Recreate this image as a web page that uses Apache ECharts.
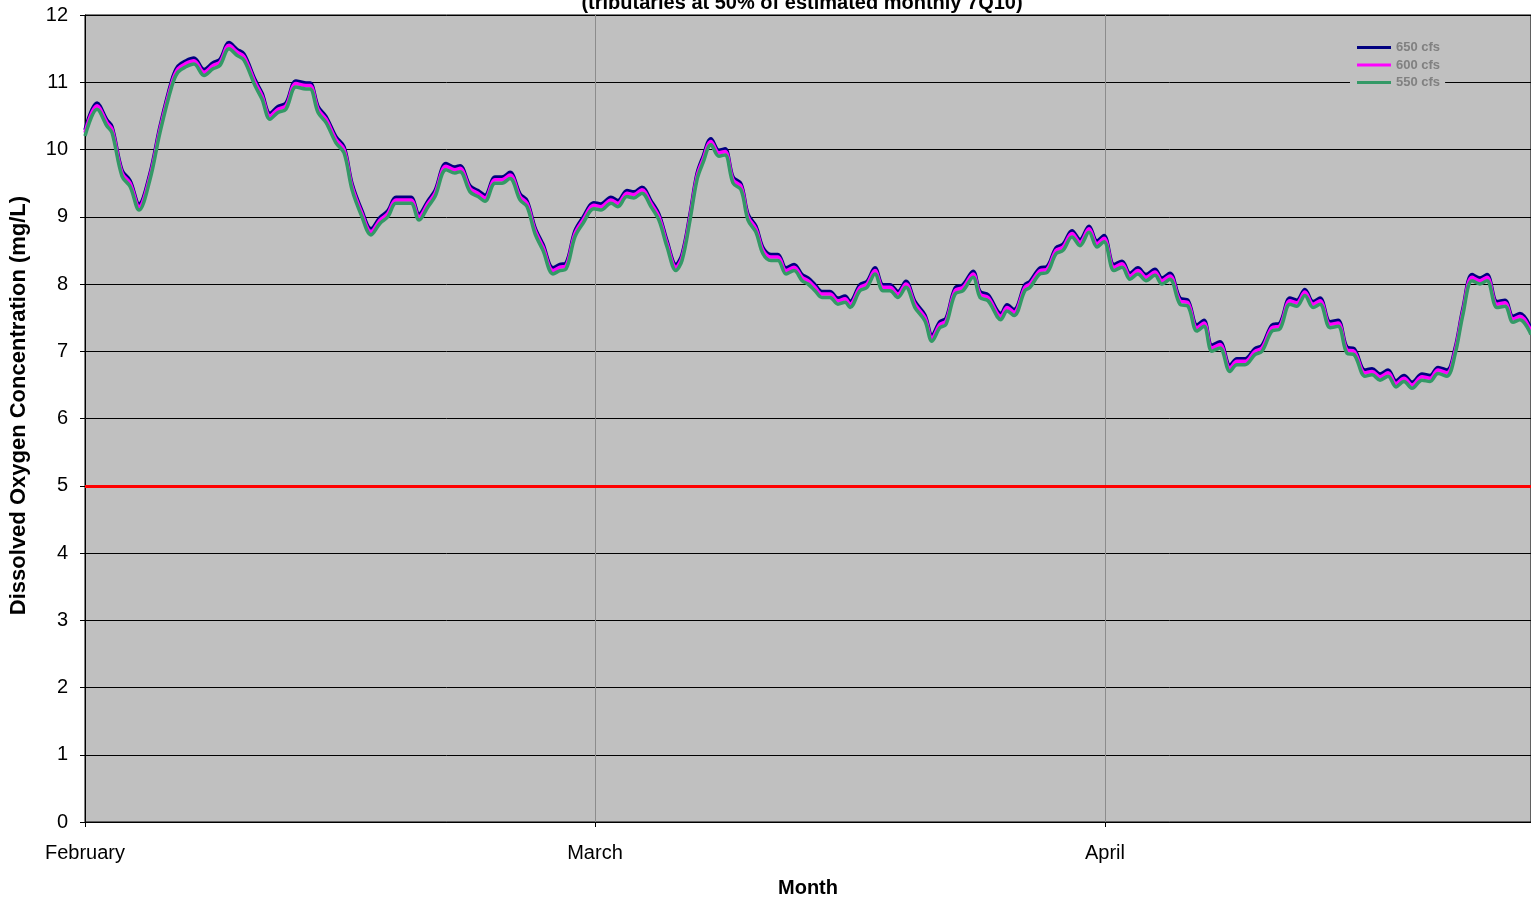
<!DOCTYPE html>
<html>
<head>
<meta charset="utf-8">
<script src="https://cdn.jsdelivr.net/npm/echarts@6/dist/echarts.min.js"></script>
<style>
html,body{margin:0;padding:0;background:#fff;}
#chart{width:1531px;height:901px;}
</style>
</head>
<body>
<div id="chart"></div>
<script>
// Day offset from 1 February for each reading
const days = [0,0.71,1.29,1.59,2.18,2.65,3.18,3.82,4.41,5.12,5.47,5.94,6.41,7.0,7.53,7.94,8.47,8.94,9.35,10.0,
10.41,10.88,11.35,11.82,12.41,13.0,13.24,13.71,14.18,14.76,15.24,15.71,16.29,16.82,17.35,17.82,18.29,18.82,19.18,19.65,
20.18,20.59,21.24,21.76,22.06,22.65,23.12,23.53,24.12,24.53,25.0,25.59,26.0,26.47,26.94,27.53,27.94,28.29,28.82,29.29,
29.94,30.35,30.94,31.35,31.88,32.29,32.76,33.29,33.76,34.24,34.76,35.12,35.59,36.0,36.35,36.82,37.29,37.65,38.12,38.59,
39.0,39.47,39.88,40.35,40.76,41.24,41.71,42.18,42.53,42.94,43.35,43.82,44.29,44.71,45.0,45.59,46.0,46.47,46.94,47.35,
47.82,48.29,48.82,49.41,49.82,50.29,50.65,51.18,51.65,52.24,52.65,53.12,53.88,54.24,54.65,55.29,55.59,56.18,56.59,57.12,
57.53,58.06,58.53,59.06,59.53,59.94,60.53,61.0,61.47,61.94,62.41,62.94,63.35,63.82,64.41,64.88,65.41,65.82,66.29,66.76,
67.35,67.76,68.24,68.82,69.24,69.82,70.29,70.88,71.29,71.76,72.24,72.65,73.24,73.71,74.24,74.65,75.29,75.71,76.18,76.65,
77.12,77.59,78.06,78.65,79.12,79.59,80.12,80.59,81.06,81.59,82.06,82.47,83.06,83.53,84.0,84.41,85.06];

const do650 = [10.29,10.69,10.44,10.34,9.69,9.54,9.19,9.64,10.34,11.04,11.24,11.32,11.36,11.19,11.29,11.34,11.59,11.49,11.42,11.04,
10.84,10.54,10.64,10.69,11.02,10.99,10.99,10.64,10.49,10.19,10.04,9.49,9.09,8.82,8.99,9.09,9.29,9.29,9.29,9.04,
9.24,9.39,9.79,9.74,9.76,9.46,9.39,9.32,9.59,9.59,9.66,9.34,9.24,8.84,8.59,8.24,8.29,8.31,8.79,8.99,
9.21,9.19,9.29,9.24,9.39,9.37,9.44,9.24,9.04,8.64,8.29,8.44,9.04,9.64,9.89,10.16,9.99,10.01,9.59,9.49,
9.04,8.86,8.54,8.44,8.44,8.24,8.29,8.14,8.09,7.99,7.89,7.89,7.79,7.82,7.74,7.99,8.04,8.24,7.99,7.99,
7.89,8.04,7.74,7.54,7.24,7.44,7.49,7.94,7.99,8.19,7.89,7.84,7.56,7.69,7.62,7.99,8.04,8.24,8.26,8.54,
8.59,8.79,8.66,8.86,8.64,8.72,8.29,8.34,8.16,8.24,8.14,8.22,8.09,8.16,7.79,7.76,7.39,7.46,7.09,7.14,
6.79,6.89,6.89,7.04,7.09,7.39,7.42,7.79,7.76,7.92,7.74,7.79,7.44,7.46,7.06,7.04,6.72,6.74,6.66,6.72,
6.56,6.64,6.54,6.66,6.64,6.76,6.72,7.04,7.64,8.14,8.09,8.14,7.74,7.76,7.52,7.56,7.34];

const do600 = [10.25,10.65,10.40,10.30,9.65,9.50,9.15,9.60,10.30,11.00,11.20,11.28,11.32,11.15,11.25,11.30,11.55,11.45,11.38,11.00,
10.80,10.50,10.60,10.65,10.98,10.95,10.95,10.60,10.45,10.15,10.00,9.45,9.05,8.78,8.95,9.05,9.25,9.25,9.25,9.00,
9.20,9.35,9.75,9.70,9.72,9.42,9.35,9.28,9.55,9.55,9.62,9.30,9.20,8.80,8.55,8.20,8.25,8.27,8.75,8.95,
9.17,9.15,9.25,9.20,9.35,9.33,9.40,9.20,9.00,8.60,8.25,8.40,9.00,9.60,9.85,10.12,9.95,9.97,9.55,9.45,
9.00,8.82,8.50,8.40,8.40,8.20,8.25,8.10,8.05,7.95,7.85,7.85,7.75,7.78,7.70,7.95,8.00,8.20,7.95,7.95,
7.85,8.00,7.70,7.50,7.20,7.40,7.45,7.90,7.95,8.15,7.85,7.80,7.52,7.65,7.58,7.95,8.00,8.20,8.22,8.50,
8.55,8.75,8.62,8.82,8.60,8.68,8.25,8.30,8.12,8.20,8.10,8.18,8.05,8.12,7.75,7.72,7.35,7.42,7.05,7.10,
6.75,6.85,6.85,7.00,7.05,7.35,7.38,7.75,7.72,7.88,7.70,7.75,7.40,7.42,7.02,7.00,6.68,6.70,6.62,6.68,
6.52,6.60,6.50,6.62,6.60,6.72,6.68,7.00,7.60,8.10,8.05,8.10,7.70,7.72,7.48,7.52,7.30];

const do550 = [10.20,10.60,10.35,10.25,9.60,9.45,9.10,9.55,10.25,10.95,11.15,11.23,11.27,11.10,11.20,11.25,11.50,11.40,11.33,10.95,
10.75,10.45,10.55,10.60,10.93,10.90,10.90,10.55,10.40,10.10,9.95,9.40,9.00,8.73,8.90,9.00,9.20,9.20,9.20,8.95,
9.15,9.30,9.70,9.65,9.67,9.37,9.30,9.23,9.50,9.50,9.57,9.25,9.15,8.75,8.50,8.15,8.20,8.22,8.70,8.90,
9.12,9.10,9.20,9.15,9.30,9.28,9.35,9.15,8.95,8.55,8.20,8.35,8.95,9.55,9.80,10.07,9.90,9.92,9.50,9.40,
8.95,8.77,8.45,8.35,8.35,8.15,8.20,8.05,8.00,7.90,7.80,7.80,7.70,7.73,7.65,7.90,7.95,8.15,7.90,7.90,
7.80,7.95,7.65,7.45,7.15,7.35,7.40,7.85,7.90,8.10,7.80,7.75,7.47,7.60,7.53,7.90,7.95,8.15,8.17,8.45,
8.50,8.70,8.57,8.77,8.55,8.63,8.20,8.25,8.07,8.15,8.05,8.13,8.00,8.07,7.70,7.67,7.30,7.37,7.00,7.05,
6.70,6.80,6.80,6.95,7.00,7.30,7.33,7.70,7.67,7.83,7.65,7.70,7.35,7.37,6.97,6.95,6.63,6.65,6.57,6.63,
6.47,6.55,6.45,6.57,6.55,6.67,6.63,6.95,7.55,8.05,8.00,8.05,7.65,7.67,7.43,7.47,7.25];

const seriesNames = ['650 cfs', '600 cfs', '550 cfs'];
const monthLabels = {0: 'February', 30: 'March', 60: 'April'};
const doStandard = 5;
const xMax = 85.06;
const titleText = '(tributaries at 50% of estimated monthly 7Q10)';

const FONT = '"Liberation Sans", Arial, sans-serif';
const pair = arr => arr.map((v, i) => [days[i], v]);

const chart = echarts.init(document.getElementById('chart'), null, {renderer: 'canvas'});

const mkSeries = (name, data, color) => ({
  name: name,
  type: 'line',
  data: pair(data),
  symbol: 'none',
  smooth: 0.35,
  lineStyle: {color: color, width: 3.5},
  itemStyle: {color: color},
  animation: false,
  z: 3
});

chart.setOption({
  animation: false,
  backgroundColor: '#ffffff',
  title: {
    text: titleText,
    left: 797,
    textAlign: 'center',
    top: -12,
    textStyle: {fontFamily: FONT, fontSize: 20, fontWeight: 'bold', color: '#000'}
  },
  legend: {
    orient: 'vertical',
    left: 1350,
    top: 35,
    padding: [6, 5, 6, 7],
    backgroundColor: '#C0C0C0',
    icon: 'rect',
    itemWidth: 34,
    itemHeight: 3,
    itemGap: 4.5,
    data: seriesNames,
    textStyle: {fontFamily: FONT, fontSize: 13, lineHeight: 13, fontWeight: 'bold', color: '#808080'}
  },
  grid: {
    left: 85, right: 0, top: 15, bottom: 79,
    outerBoundsMode: 'none',
    containLabel: false,
    show: true,
    backgroundColor: '#C0C0C0',
    borderColor: '#000',
    borderWidth: 1
  },
  xAxis: {
    type: 'value',
    min: 0, max: xMax, interval: 30,
    name: 'Month',
    nameLocation: 'middle',
    nameGap: 56,
    nameTextStyle: {fontFamily: FONT, fontSize: 20, fontWeight: 'bold', color: '#000'},
    axisLine: {show: true, lineStyle: {color: '#000', width: 1}},
    axisTick: {show: true, length: 5, lineStyle: {color: '#000'}},
    axisLabel: {
      fontFamily: FONT, fontSize: 20, color: '#000', margin: 21,
      showMaxLabel: false,
      formatter: v => monthLabels[v] !== undefined ? monthLabels[v] : ''
    },
    splitLine: {show: true, lineStyle: {color: '#8c8c8c', width: 1}}
  },
  yAxis: {
    type: 'value',
    min: 0, max: 12, interval: 1,
    name: 'Dissolved Oxygen Concentration (mg/L)',
    nameLocation: 'middle',
    nameGap: 55,
    nameTextStyle: {fontFamily: FONT, fontSize: 22, fontWeight: 'bold', color: '#000', padding: [0, 0, 0, 26]},
    axisLine: {show: true, lineStyle: {color: '#000', width: 1}},
    axisTick: {show: true, length: 5, lineStyle: {color: '#000'}},
    axisLabel: {fontFamily: FONT, fontSize: 20, color: '#000', margin: 17},
    splitLine: {show: true, lineStyle: {color: '#000', width: 1}}
  },
  series: [
    mkSeries(seriesNames[0], do650, '#000080'),
    mkSeries(seriesNames[1], do600, '#FF00FF'),
    mkSeries(seriesNames[2], do550, '#339966'),
    {
      name: 'DO standard',
      type: 'line',
      data: [],
      silent: true,
      markLine: {
        silent: true,
        symbol: ['none', 'none'],
        label: {show: false},
        lineStyle: {color: '#FF0000', width: 3, type: 'solid'},
        data: [{yAxis: doStandard}]
      },
      z: 2
    }
  ]
});
</script>
</body>
</html>
